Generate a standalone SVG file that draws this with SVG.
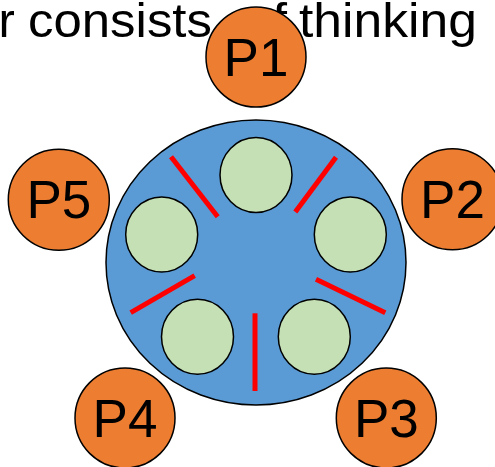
<svg xmlns="http://www.w3.org/2000/svg" width="495" height="467" viewBox="0 0 495 467">
<style>
.title{font-family:"Liberation Sans",Arial,sans-serif;font-size:49px;fill:#000}
.ph{fill:#ED7D31;stroke:#000;stroke-width:1.5}
.bowl{fill:#C5E0B4;stroke:#000;stroke-width:1.5}
.table{fill:#5B9BD5;stroke:#000;stroke-width:1.5}
.stick{stroke:#FF0000;stroke-width:5;stroke-linecap:butt}
.lbl{font-family:"Liberation Sans",Arial,sans-serif;font-size:53px;fill:#000;text-anchor:middle}
</style>
<rect width="495" height="467" fill="#fff"/>
<g id="title">
<text class="title" x="-1.5" y="37">r</text>
<text class="title" x="28" y="37" textLength="184" lengthAdjust="spacingAndGlyphs">consists</text>
<text class="title" x="242" y="37" textLength="45" lengthAdjust="spacingAndGlyphs">of</text>
<text class="title" x="299" y="37" textLength="178" lengthAdjust="spacingAndGlyphs">thinking</text>
</g>
<g id="table"><ellipse class="table" cx="256" cy="262.5" rx="150" ry="142.5"/></g>
<g id="bowls">
<ellipse class="bowl" cx="256" cy="175" rx="36" ry="37.5"/>
<ellipse class="bowl" cx="161.7" cy="234.5" rx="36" ry="37.5"/>
<ellipse class="bowl" cx="350.3" cy="234.5" rx="36" ry="37.5"/>
<ellipse class="bowl" cx="197.5" cy="336.8" rx="36" ry="37.5"/>
<ellipse class="bowl" cx="314.3" cy="336.8" rx="36" ry="37.5"/>
</g>
<g id="connectors">
<line class="stick" x1="171" y1="156.7" x2="217.7" y2="216.7"/>
<line class="stick" x1="336" y1="157.3" x2="295.3" y2="212"/>
<line class="stick" x1="316" y1="279.3" x2="385.3" y2="312.7"/>
<line class="stick" x1="194.7" y1="275.7" x2="130.7" y2="312.7"/>
<line class="stick" x1="255" y1="313.3" x2="255" y2="391"/>
</g>
<g id="P1"><circle class="ph" cx="256" cy="57" r="50"/><text class="lbl" x="256" y="75.5">P1</text></g>
<g id="P2"><circle class="ph" cx="452.5" cy="199.2" r="50.5"/><text class="lbl" x="452.5" y="217.5">P2</text></g>
<g id="P3"><circle class="ph" cx="386.3" cy="418" r="50"/><text class="lbl" x="386.3" y="436.5">P3</text></g>
<g id="P4"><circle class="ph" cx="125" cy="418" r="50"/><text class="lbl" x="125" y="436.5">P4</text></g>
<g id="P5"><circle class="ph" cx="58.8" cy="199.7" r="50.5"/><text class="lbl" x="58.8" y="218">P5</text></g>
</svg>
